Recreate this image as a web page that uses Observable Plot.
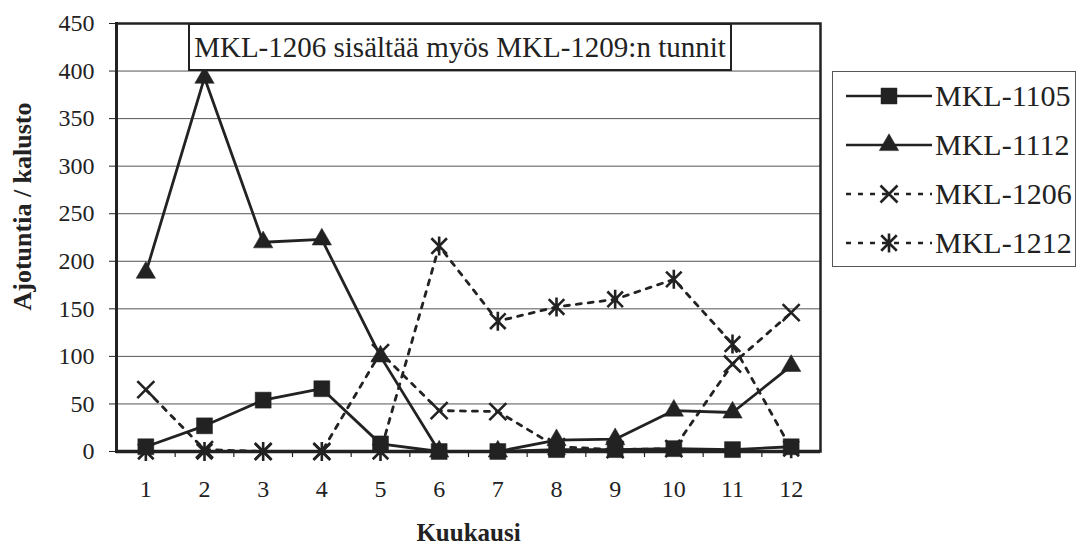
<!DOCTYPE html>
<html>
<head>
<meta charset="utf-8">
<script src="https://cdn.jsdelivr.net/npm/d3@7"></script>
<script src="https://cdn.jsdelivr.net/npm/@observablehq/plot@0.6"></script>
<style>
  html, body { margin: 0; padding: 0; background: #fff; }
  #wrap { position: relative; width: 1080px; height: 553px; overflow: hidden; font-family: "Liberation Serif", "Times New Roman", serif; color: #222; }
  #note { position: absolute; left: 188px; top: 23px; width: 540px; height: 44px; border: 2px solid #222; background: #fff;
          font-size: 29px; line-height: 44px; text-align: center; white-space: nowrap; }
  #legend { position: absolute; left: 832px; top: 71px; width: 242px; height: 194px; border: 1px solid #555; background: #fff; }
  .row { position: absolute; left: 13px; height: 40px; display: flex; align-items: center; }
  .row span { font-size: 30px; margin-left: 1px; white-space: nowrap; }
</style>
</head>
<body>
<div id="wrap"></div>
<script>
// ---- data ----
const months = [1, 2, 3, 4, 5, 6, 7, 8, 9, 10, 11, 12];
const seriesNames = ["MKL-1105", "MKL-1112", "MKL-1206", "MKL-1212"];
const mkl1105 = [5, 27, 54, 66, 8, 0, 0, 2, 2, 3, 2, 5];
const mkl1112 = [188, 393, 220, 223, 100, 0, 0, 12, 13, 43, 41, 90];
const mkl1206 = [65, 2, 0, 0, 104, 43, 42, 5, 2, 3, 92, 146];
const mkl1212 = [0, 0, 0, 0, 0, 216, 137, 152, 160, 181, 113, 3];
const yTicks = [0, 50, 100, 150, 200, 250, 300, 350, 400, 450];
const xLabel = "Kuukausi";
const yLabel = "Ajotuntia / kalusto";
const noteText = "MKL-1206 sisältää myös MKL-1209:n tunnit";

const valuesBySeries = [mkl1105, mkl1112, mkl1206, mkl1212];
const table = seriesNames.flatMap((name, i) =>
  months.map((m, j) => ({series: name, month: m, value: valuesBySeries[i][j]})));

// ---- symbols / styles ----
const timesSym = {draw(ctx, size) {
  const h = Math.sqrt(size / Math.PI);
  ctx.moveTo(-h, -h); ctx.lineTo(h, h);
  ctx.moveTo(-h, h); ctx.lineTo(h, -h);
}};
const asteriskSym = {draw(ctx, size) {
  const h = Math.sqrt(size / Math.PI);
  const d = h * 0.82;
  ctx.moveTo(-d, -d); ctx.lineTo(d, d);
  ctx.moveTo(-d, d); ctx.lineTo(d, -d);
  ctx.moveTo(0, -h); ctx.lineTo(0, h);
}};
const ink = "#222";
const styles = {
  "MKL-1105": {symbol: "square", r: 9, filled: true, dash: null},
  "MKL-1112": {symbol: "triangle", r: 7.2, filled: true, dash: null},
  "MKL-1206": {symbol: timesSym, r: 8.5, filled: false, dash: "5,7"},
  "MKL-1212": {symbol: asteriskSym, r: 9.5, filled: false, dash: "5,7"}
};
const font = '"Liberation Serif", "Times New Roman", serif';

const marks = [
  Plot.gridY(yTicks, {stroke: "#555", strokeOpacity: 1, strokeWidth: 1}),
  Plot.axisY({ticks: yTicks, tickSize: 7, tickPadding: 15, fontSize: 24, label: null, stroke: ink, strokeWidth: 1}),
  Plot.axisX({ticks: months, tickSize: 0, tickPadding: 28, fontSize: 24, label: null}),
  Plot.axisX({ticks: months.slice(0, 11).map(m => m + 0.5), tickSize: 6, tickFormat: () => "", label: null, stroke: ink, strokeWidth: 1.2}),
  Plot.frame({stroke: ink, strokeWidth: 2.5}),
  Plot.frame({anchor: "left", stroke: ink, strokeWidth: 3}),
  Plot.ruleY([0], {stroke: ink, strokeWidth: 3.5}),
];
for (const name of seriesNames) {
  const st = styles[name];
  const data = table.filter(d => d.series === name);
  marks.push(Plot.line(data, {x: "month", y: "value", stroke: ink, strokeWidth: 2.8, strokeDasharray: st.dash, curve: "linear"}));
}
for (const name of seriesNames) {
  const st = styles[name];
  const data = table.filter(d => d.series === name);
  marks.push(Plot.dot(data, {x: "month", y: "value", symbol: () => st.symbol, r: st.r,
    fill: st.filled ? ink : "none", stroke: ink, strokeWidth: st.filled ? 0.5 : 2.6}));
}
marks.push(Plot.text([yLabel], {frameAnchor: "left", textAnchor: "middle", rotate: -90, dx: -94, dy: -31, fontSize: 26, fontWeight: "bold", fill: ink}));
marks.push(Plot.text([xLabel], {frameAnchor: "bottom", textAnchor: "middle", dy: 89, fontSize: 25, fontWeight: "bold", fill: ink}));

const chart = Plot.plot({
  width: 1080, height: 553,
  marginLeft: 116, marginRight: 260, marginTop: 23, marginBottom: 102,
  x: {type: "linear", domain: [0.5, 12.5]},
  y: {domain: [0, 450]},
  style: {fontFamily: font, color: ink, background: "#fff", overflow: "visible"},
  marks
});
const wrap = document.getElementById("wrap");
wrap.appendChild(chart);

// annotation box
const note = document.createElement("div");
note.id = "note";
note.textContent = noteText;
wrap.appendChild(note);

// legend
const legend = document.createElement("div");
legend.id = "legend";
seriesNames.forEach((name, i) => {
  const st = styles[name];
  const row = document.createElement("div");
  row.className = "row";
  row.style.top = (4 + i * 49) + "px";
  const svg = d3.create("svg").attr("width", 88).attr("height", 40);
  svg.append("line").attr("x1", 0).attr("x2", 86).attr("y1", 20).attr("y2", 20)
    .attr("stroke", ink).attr("stroke-width", st.filled ? 2.6 : 2.4).attr("stroke-dasharray", st.dash || null);
  const symType = typeof st.symbol === "string" ? (st.symbol === "square" ? d3.symbolSquare : d3.symbolTriangle) : st.symbol;
  svg.append("path").attr("transform", "translate(43,20)")
    .attr("d", d3.symbol(symType, st.r * st.r * Math.PI)())
    .attr("fill", st.filled ? ink : "none").attr("stroke", ink).attr("stroke-width", st.filled ? 0.5 : 2.6);
  row.appendChild(svg.node());
  const label = document.createElement("span");
  label.textContent = name;
  row.appendChild(label);
  legend.appendChild(row);
});
wrap.appendChild(legend);
</script>
</body>
</html>
